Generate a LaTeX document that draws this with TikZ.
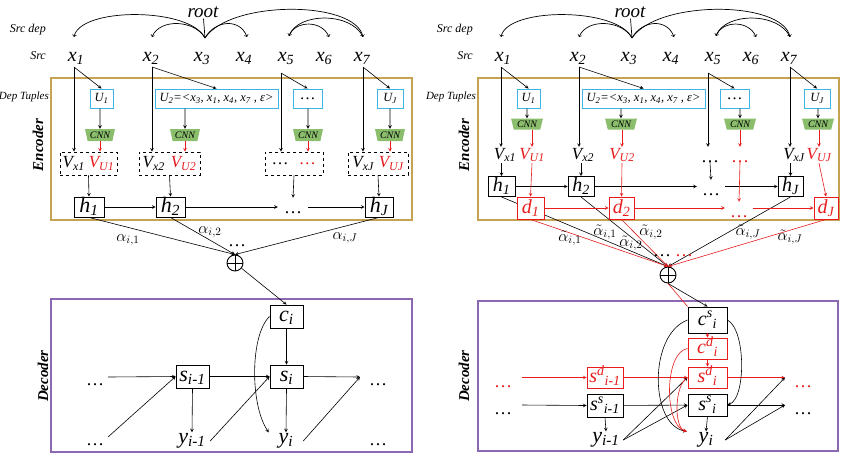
\RequirePackage{fix-cm}
\documentclass[tikz,border=0pt]{standalone}
\usepackage{fontspec}
\setmainfont{Liberation Serif}
\usetikzlibrary{arrows, shapes.geometric, positioning}

\definecolor{encgold}{RGB}{198,162,82}
\definecolor{decpurple}{RGB}{140,104,178}
\definecolor{tupcyan}{RGB}{62,180,228}
\definecolor{cnngreen}{RGB}{138,190,108}
\definecolor{attred}{RGB}{232,28,28}

\newcommand\fsz[1]{\fontsize{#1}{#1}\selectfont}
\newcommand\ssub[2]{#1\textsubscript{#2}}

\tikzset{
  lbl/.style={font=\fsz{12}\itshape, inner sep=1pt},
  side/.style={font=\fsz{15}\bfseries\itshape, rotate=90},
  word/.style={font=\fsz{20}\itshape, inner sep=1pt},
  tuple/.style={draw=tupcyan, line width=1pt, fill=white, font=\fsz{12.5}\itshape, minimum height=19, inner sep=2pt},
  cnn/.style={trapezium, shape border rotate=180, trapezium angle=74, trapezium stretches=true, fill=cnngreen, font=\fsz{10}\itshape, minimum width=30, minimum height=12, inner sep=0.5pt},
  vbox/.style={draw, dashed, line width=0.8pt, minimum height=23, font=\fsz{17}\itshape, inner sep=1pt},
  cell/.style={draw, line width=0.9pt, fill=white, font=\fsz{22}\itshape, inner sep=0pt, text height=15pt, text depth=5pt},
  rcell/.style={cell, draw=attred, text=attred},
  dotsnode/.style={inner sep=0pt, anchor=base, text height=15pt, text depth=0pt, font=\fsz{18}},
  alab/.style={font=\fsz{16}, inner sep=0pt},
  sumnode/.style={circle, draw, line width=0.9pt, minimum size=16, inner sep=0pt,
    path picture={\draw[line width=0.9pt] (path picture bounding box.north) -- (path picture bounding box.south)
      (path picture bounding box.west) -- (path picture bounding box.east);}},
  arr/.style={-stealth, line width=0.6pt},
  rarr/.style={arr, attred},
  deparc/.style={->, line width=0.7pt},
}

\begin{document}
\begin{tikzpicture}[x=1pt, y=-1pt]
\useasboundingbox (0,0) rectangle (845,456);

% source words, their dependency tree and the dep tuples (same in both halves)
\foreach \p/\dx in {L/0, R/427}{
\begin{scope}[xshift=\dx]
  \draw[encgold, line width=1.3pt] (51,78) rectangle (412,220);
  \node (\p root) [word, font=\fsz{19}\itshape] at (203,12) {root};
  \node (\p srcdep) [lbl, anchor=east] at (47,30) {Src dep};
  \node (\p src) [lbl, anchor=east] at (47,56) {Src};
  \node (\p deptup) [lbl, font=\fsz{11}\itshape, anchor=east] at (50,97) {Dep Tuples};
  \node (\p x1) [word] at (76,58) {\ssub{x}{1}};
  \node (\p x2) [word] at (151,58) {\ssub{x}{2}};
  \node (\p x3) [word] at (202,58) {\ssub{x}{3}};
  \node (\p x4) [word] at (244,58) {\ssub{x}{4}};
  \node (\p x5) [word] at (286,58) {\ssub{x}{5}};
  \node (\p x6) [word] at (324,58) {\ssub{x}{6}};
  \node (\p x7) [word] at (362,58) {\ssub{x}{7}};
  \coordinate (\p t1) at (74,37);
  \coordinate (\p t2) at (152,37);
  \coordinate (\p t3) at (205,38);
  \coordinate (\p t4) at (247,37);
  \coordinate (\p t5) at (289,36);
  \coordinate (\p t6) at (329,37);
  \coordinate (\p t7) at (363,37);
  \draw[line width=0.7pt] (\p root) -- (\p t3);
  \draw[deparc] (\p t3) .. controls (190,7) and (80,7) .. (\p t1);
  \draw[deparc] (\p t3) .. controls (195,20) and (160,18) .. (\p t2);
  \draw[deparc] (\p t3) .. controls (215,20) and (240,18) .. (\p t4);
  \draw[deparc] (\p t3) .. controls (230,0) and (355,0) .. (\p t7);
  \draw[deparc] (\p t7) .. controls (352,12) and (298,12) .. (\p t5);
  \draw[deparc] (\p t5) .. controls (295,20) and (322,20) .. (\p t6);

  \node (\p U1) [tuple, minimum width=23] at (101.5,98.5) {\ssub{U}{1}};
  \node (\p U2) [tuple, minimum width=123] at (216.5,98.5) {\ssub{U}{2}=<\ssub{x}{3}, \ssub{x}{1}, \ssub{x}{4}, \ssub{x}{7} , ε>};
  \node (\p U3) [tuple, minimum width=29, font=\fsz{16}] at (307.5,98.5) {\ldots};
  \node (\p UJ) [tuple, minimum width=26] at (390,98.5) {\ssub{U}{J}};
  \coordinate (\p f1) at (74,67);
  \coordinate (\p f2) at (152,67);
  \coordinate (\p f3) at (281,73);
  \coordinate (\p f4) at (363,67);
  \draw[arr] (\p f1) -- (\p U1.north);
  \draw[arr] (\p f2) -- (\p U2.north);
  \draw[arr] (\p f3) -- (\p U3.north);
  \draw[arr] (\p f4) -- (\p UJ.north);
\end{scope}
}

% ---------- left: encoder ----------
\node (Lenclab) [side] at (38,145) {Encoder};
\node (LC1) [cnn] at (100,135) {CNN};
\node (LC2) [cnn] at (185,135) {CNN};
\node (LC3) [cnn] at (308,135) {CNN};
\node (LC4) [cnn] at (390,135) {CNN};
\draw[arr] (LU1.south -| LC1) -- (LC1.north);
\draw[arr] (LU2.south -| LC2) -- (LC2.north);
\draw[arr] (LU3.south -| LC3) -- (LC3.north);
\draw[arr] (LUJ.south -| LC4) -- (LC4.north);

\node (LV1) [vbox, minimum width=57] at (88.5,163.5) {\ssub{V}{x1}\hspace{4pt}\textcolor{attred}{\ssub{V}{U1}}};
\node (LV2) [vbox, minimum width=61] at (169.5,163.5) {\ssub{V}{x2}\hspace{6pt}\textcolor{attred}{\ssub{V}{U2}}};
\node (LV3) [vbox, minimum width=58] at (294,163.5) {\ldots\hspace{12pt}\textcolor{attred}{\ldots}};
\node (LV4) [vbox, minimum width=60] at (378,163.5) {\ssub{V}{xJ}\hspace{5pt}\textcolor{attred}{\ssub{V}{UJ}}};
\draw[arr] (Lf1) -- (Lf1 |- LV1.north);
\draw[arr] (Lf2) -- (Lf2 |- LV2.north);
\draw[arr] (Lf3) -- (Lf3 |- LV3.north);
\draw[arr] (Lf4) -- (Lf4 |- LV4.north);
\draw[rarr] (LC1.south) -- (LC1.south |- LV1.north);
\draw[rarr] (LC2.south) -- (LC2.south |- LV2.north);
\draw[rarr] (LC3.south) -- (LC3.south |- LV3.north);
\draw[rarr] (LC4.south) -- (LC4.south |- LV4.north);

\node (Lh1) [cell, minimum width=30] at (89,207) {\ssub{h}{1}};
\node (Lh2) [cell, minimum width=29] at (170.5,207) {\ssub{h}{2}};
\node (Lhd) [dotsnode, minimum width=30] at (293,213) {\ldots};
\node (LhJ) [cell, minimum width=28] at (379,207) {\ssub{h}{J}};
\draw[arr] (LV1.south) -- (Lh1.north);
\draw[arr] (LV2.south) -- (Lh2.north);
\draw[arr] (LV3.south) -- (Lhd.north);
\draw[arr] (LV4.south) -- (LhJ.north);
\draw[arr] (Lh1) -- (Lh2);
\draw[arr] (Lh2.east) -- (Lh2.east -| Lhd.west);
\draw[arr] (LhJ.west -| Lhd.east) -- (LhJ.west);

% attention
\node (Lsum) [sumnode] at (235,263) {};
\draw[arr] (Lh1.south) -- (Lsum.north);
\draw[arr] (Lh2.south) -- (Lsum.north);
\draw[arr] (LhJ.south) -- (Lsum.north);
\node (La1) [alab] at (128,240) {$\alpha_{i,1}$};
\node (La2) [alab] at (210,232) {$\alpha_{i,2}$};
\node (LaJ) [alab] at (345,238) {$\alpha_{i,J}$};
\node (Lad) [dotsnode] at (237,246) {\ldots};

% ---------- left: decoder ----------
\draw[decpurple, line width=1.3pt] (51,299) rectangle (412,452);
\node (Ldeclab) [side] at (43,376) {Decoder};
\node (Lc) [cell, minimum width=33, minimum height=23] at (286.5,316.5) {\ssub{c}{i}};
\node (Ls1) [cell, minimum width=33, minimum height=23] at (192.5,376.5) {\ssub{s}{i-1}};
\node (Ls2) [cell, minimum width=33, minimum height=23] at (286.5,376.5) {\ssub{s}{i}};
\node (Ly1) [word, font=\fsz{22}\itshape, minimum width=36] at (192,441) {\ssub{y}{i-1}};
\node (Ly2) [word, font=\fsz{22}\itshape, minimum width=34] at (286,441) {\ssub{y}{i}};
\node (Ld1) [dotsnode] at (95,385) {\ldots};
\node (Ld2) [dotsnode] at (378,385) {\ldots};
\node (Ld3) [dotsnode] at (95,445) {\ldots};
\node (Ld4) [dotsnode] at (378,445) {\ldots};
\coordinate (Lin) at (108,377);
\coordinate (Lout) at (360,377);
\coordinate (Lyin) at (108,437);
\draw[arr] (Lsum) -- (Lc.north);
\draw[arr] (Lc) -- (Ls2);
\draw[arr] (Lin) -- (Ls1.west);
\draw[arr] (Ls1) -- (Ls2);
\draw[arr] (Ls2.east) -- (Lout);
\draw[arr] (Ls1.south) -- (Ly1.north);
\draw[arr] (Ls2.south) -- (Ly2.north);
\draw[arr] (Lyin) -- (Ls1.west);
\draw[arr] (Ly1.east) -- (Ls2.west);
\draw[arr] (Ly2.east) -- (Lout);
\draw[arr] (Lc.west) .. controls (250,335) and (250,405) .. (Ly2.north west);

% ---------- right: encoder ----------
\node (Renclab) [side] at (464,145) {Encoder};
\node (RC1) [cnn, minimum width=32, minimum height=11] at (527,124) {CNN};
\node (RC2) [cnn, minimum width=32, minimum height=11] at (621,124) {CNN};
\node (RC3) [cnn, minimum width=32, minimum height=11] at (740,124) {CNN};
\node (RC4) [cnn, minimum width=32, minimum height=11] at (818,124) {CNN};
\draw[arr] (RU1.south -| RC1) -- (RC1.north);
\draw[arr] (RU2.south -| RC2) -- (RC2.north);
\draw[arr] (RU3.south -| RC3) -- (RC3.north);
\draw[arr] (RUJ.south -| RC4) -- (RC4.north);

\node (RVx1) [word, font=\fsz{17}\itshape] at (505,155) {\ssub{V}{x1}};
\node (RVx2) [word, font=\fsz{17}\itshape] at (583,155) {\ssub{V}{x2}};
\node (RVxd) [dotsnode] at (710,162) {\ldots};
\node (RVxJ) [word, font=\fsz{17}\itshape] at (794,155) {\ssub{V}{xJ}};
\node (RVu1) [word, font=\fsz{17}\itshape, text=attred] at (532,155) {\ssub{V}{U1}};
\node (RVu2) [word, font=\fsz{17}\itshape, text=attred] at (622,155) {\ssub{V}{U2}};
\node (RVud) [dotsnode, text=attred] at (740,162) {\ldots};
\node (RVuJ) [word, font=\fsz{17}\itshape, text=attred] at (819,155) {\ssub{V}{UJ}};
\draw[arr] (Rf1) -- (Rf1 |- RVx1.north);
\draw[arr] (Rf2) -- (Rf2 |- RVx2.north);
\draw[arr] (Rf3) -- (Rf3 |- RVxd.north);
\draw[arr] (Rf4) -- (Rf4 |- RVxJ.north);
\draw[rarr] (RVu1.north |- RC1.south) -- (RVu1.north);
\draw[rarr] (RVu2.north |- RC2.south) -- (RVu2.north);
\draw[rarr] (RVud.north |- RC3.south) -- (RVud.north);
\draw[rarr] (RVuJ.north |- RC4.south) -- (RVuJ.north);

\node (Rh1) [cell, font=\fsz{20}\itshape, minimum width=27, minimum height=19] at (501.5,186.5) {\ssub{h}{1}};
\node (Rh2) [cell, font=\fsz{20}\itshape, minimum width=26, minimum height=19] at (581,186.5) {\ssub{h}{2}};
\node (Rhd) [dotsnode, minimum width=28] at (711,195) {\ldots};
\node (RhJ) [cell, font=\fsz{20}\itshape, minimum width=25, minimum height=19] at (790.5,186.5) {\ssub{h}{J}};
\draw[arr] (RVx1.south -| Rh1) -- (Rh1.north);
\draw[arr] (RVx2.south -| Rh2) -- (Rh2.north);
\draw[arr] (RVxd.south) -- (Rhd.north);
\draw[arr] (RVxJ.south -| RhJ) -- (RhJ.north);
\draw[arr] (Rh1) -- (Rh2);
\draw[arr] (Rh2.east) -- (Rh2.east -| Rhd.west);
\draw[arr] (RhJ.west -| Rhd.east) -- (RhJ.west);

% attention over both encoders
\node (Rsum) [sumnode] at (668,275) {};
\draw[arr] (Rh1.south) -- (Rsum.north);
\draw[arr] (Rh2.south) -- (Rsum.north);
\draw[arr] (RhJ.south) -- (Rsum.north);

\node (Rd1) [rcell, font=\fsz{20}\itshape, minimum width=27, minimum height=22] at (530.5,208) {\ssub{d}{1}};
\node (Rd2) [rcell, font=\fsz{20}\itshape, minimum width=25, minimum height=22] at (621.5,208) {\ssub{d}{2}};
\node (Rdd) [dotsnode, minimum width=28, text=attred] at (739,217) {\ldots};
\node (RdJ) [rcell, font=\fsz{20}\itshape, minimum width=24, minimum height=22] at (826,208) {\ssub{d}{J}};
\draw[rarr] (RVu1.south) -- (Rd1.north);
\draw[rarr] (RVu2.south) -- (Rd2.north);
\draw[rarr] (RVud.south) -- (Rdd.north);
\draw[rarr] (RVuJ.south) -- (RdJ.north);
\draw[rarr] (Rd1) -- (Rd2);
\draw[rarr] (Rd2.east) -- (Rd2.east -| Rdd.west);
\draw[rarr] (RdJ.west -| Rdd.east) -- (RdJ.west);
\draw[rarr] (Rd1.south) -- (Rsum.north);
\draw[rarr] (Rd2.south) -- (Rsum.north);
\draw[rarr] (RdJ.south) -- (Rsum.north);

\node (Rb1) [alab] at (570,238) {$\tilde{\alpha}_{i,1}$};
\node (Rb2) [alab] at (605,232) {$\tilde{\alpha}_{i,1}$};
\node (Rb3) [alab] at (631,243) {$\tilde{\alpha}_{i,2}$};
\node (Rb4) [alab] at (651,232) {$\tilde{\alpha}_{i,2}$};
\node (Rb5) [alab] at (748,232) {$\tilde{\alpha}_{i,J}$};
\node (Rb6) [alab] at (790,237) {$\tilde{\alpha}_{i,J}$};
\node (Rbd1) [dotsnode] at (662,256) {\ldots};
\node (Rbd2) [dotsnode, text=attred] at (684,256) {\ldots};

% ---------- right: decoder ----------
\draw[decpurple, line width=1.3pt] (478,301) rectangle (838,451);
\node (Rdeclab) [side] at (464,376) {Decoder};
\node (Rcs) [cell, font=\fsz{20}\itshape, minimum width=39, minimum height=26] at (707.5,320) {c\textsuperscript{s}\textsubscript{i}};
\node (Rcd) [rcell, font=\fsz{20}\itshape, minimum width=39, minimum height=21] at (707.5,348.5) {c\textsuperscript{d}\textsubscript{i}};
\node (Rsd2) [rcell, font=\fsz{20}\itshape, minimum width=39, minimum height=21] at (707.5,377.5) {s\textsuperscript{d}\textsubscript{i}};
\node (Rss2) [cell, font=\fsz{20}\itshape, minimum width=39, minimum height=22] at (707.5,405) {s\textsuperscript{s}\textsubscript{i}};
\node (Rsd1) [rcell, font=\fsz{20}\itshape, minimum width=36, minimum height=21] at (605,377.5) {s\textsuperscript{d}\textsubscript{i-1}};
\node (Rss1) [cell, font=\fsz{20}\itshape, minimum width=36, minimum height=23] at (605,405.5) {s\textsuperscript{s}\textsubscript{i-1}};
\node (Ry1) [word, font=\fsz{22}\itshape, minimum width=34] at (606,440) {\ssub{y}{i-1}};
\node (Ry2) [word, font=\fsz{22}\itshape, minimum width=38] at (706,440) {\ssub{y}{i}};
\node (Rdl1) [dotsnode, text=attred] at (503,387) {\ldots};
\node (Rdl2) [dotsnode] at (503,414) {\ldots};
\node (Rdr1) [dotsnode, text=attred] at (803,387) {\ldots};
\node (Rdr2) [dotsnode] at (803,414) {\ldots};
\coordinate (Rin1) at (522,377.5);
\coordinate (Rin2) at (522,405);
\coordinate (Rout1) at (785,377.5);
\coordinate (Rout2) at (785,405);

\draw[attred, line width=0.6pt] (Rsum.south) -- (Rcs.north west);
\draw[arr] (Rsum.south) -- (Rcs.north);
\draw[rarr] (Rcs.south) -- (Rcd.north);
\draw[rarr] (Rcd.south) -- (Rsd2.north);
\draw[rarr] (Rin1) -- (Rsd1.west);
\draw[rarr] (Rsd1) -- (Rsd2);
\draw[rarr] (Rsd2.east) -- (Rout1);
\draw[arr] (Rin2) -- (Rss1.west);
\draw[arr] (Rss1) -- (Rss2);
\draw[arr] (Rss2.east) -- (Rout2);
\draw[arr] (Rss1.south) -- (Ry1.north);
\draw[arr] (Rss2.south) -- (Ry2.north);
\draw[arr] (Ry1.east) -- (Rsd2.west);
\draw[arr] (Ry1.east) -- (Rss2.west);
\draw[arr] (Ry2.east) -- (Rout1);
\draw[arr] (Ry2.east) -- (Rout2);
\draw[arr] (Rcs.west) .. controls (648,335) and (650,425) .. (Ry2.north west);
\draw[arr] (Rcs.east) .. controls (746,330) and (746,398) .. (Rss2.east);
\draw[rarr] (Rcd.west) .. controls (664,352) and (664,425) .. (Ry2.north west);
\draw[rarr] (Rsd2.west) .. controls (674,385) and (674,428) .. (Ry2.north west);
\end{tikzpicture}
\end{document}
